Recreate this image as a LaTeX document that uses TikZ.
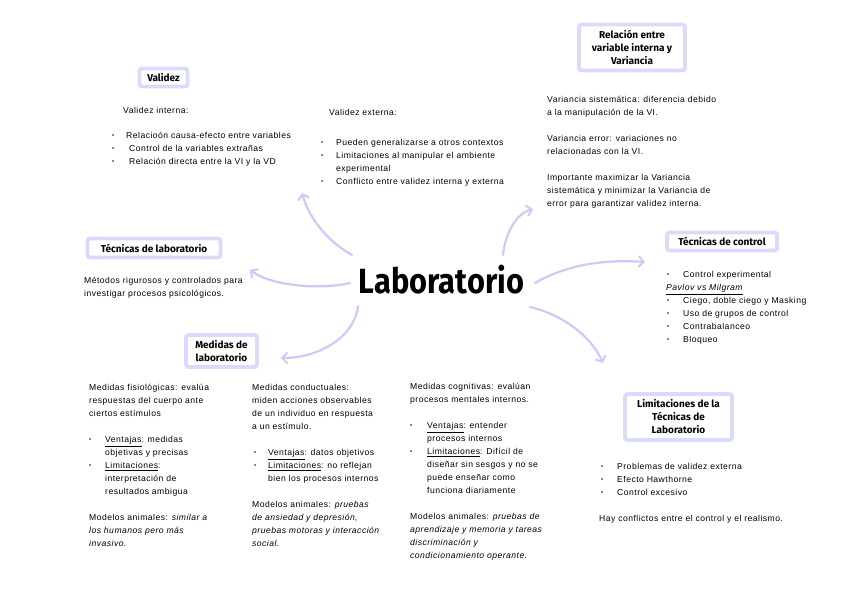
\documentclass[tikz,border=0pt]{standalone}
\usepackage{fontspec}
\setmainfont{Liberation Sans}[LetterSpace=5.5]
\newfontfamily\tfont{Fira Sans}
\usetikzlibrary{arrows.meta}
\definecolor{boxc}{RGB}{217,219,250}
\definecolor{arrc}{RGB}{200,205,246}
\newcommand\bl[1]{\makebox[#1][l]{\raisebox{0.2ex}{\scalebox{0.7}{•}}}}
\begin{document}
\begin{tikzpicture}[x=1pt,y=-1pt,
 ttl/.style={draw=boxc,line width=3.8pt,fill=white,rounded corners=2.5pt,
   font=\tfont\bfseries\fontsize{10}{13}\selectfont,align=center,inner sep=0pt},
 txt/.style={anchor=north west,inner sep=0pt,align=left,font=\fontsize{8.6}{13}\selectfont},
 arr/.style={draw=arrc,line width=2.2pt,line cap=round,
   -{Straight Barb[length=5pt,width=11pt,line width=2pt]}}]
\useasboundingbox (0,0) rectangle (848,599);

% title boxes
\node[ttl,minimum width=48pt,minimum height=18pt] (val) at (163.5,77.5) {Validez};
\node[ttl,minimum width=106pt,minimum height=46pt] (rel) at (632,47.5)
  {Relación entre\\variable interna y\\Variancia};
\node[ttl,minimum width=133pt,minimum height=19pt] (tlab) at (154,248) {Técnicas de laboratorio};
\node[ttl,minimum width=110pt,minimum height=18pt] (tcon) at (722,241.5) {Técnicas de control};
\node[ttl,minimum width=71pt,minimum height=32pt] (med) at (221.5,351) {Medidas de\\laboratorio};
\node[ttl,minimum width=107pt,minimum height=46pt] (lim) at (678.5,417) {Limitaciones de la\\Técnicas de\\Laboratorio};

% centre
\node[inner sep=0pt] (lab) at (441.5,280)
  {\scalebox{0.88}[1]{\tfont\bfseries\fontsize{35}{40}\selectfont Laboratorio}};

% texts
\node[txt] (vih) at (123,104.5) {\strut Validez interna:};
\node[txt] (vil) at (112,129.5) {\strut\bl{14pt}Relacioón causa-efecto entre variables\\
 \bl{14pt}\hspace{3pt}Control de la variables extrañas\\
 \bl{14pt}\hspace{3pt}Relación directa entre la VI y la VD};

\node[txt] (veh) at (329,106.5) {\strut Validez externa:};
\node[txt] (vel) at (321,136.5) {\strut\bl{15pt}Pueden generalizarse a otros contextos\\
 \bl{15pt}Limitaciones al manipular el ambiente\\
 \hspace{15pt}experimental\\
 \bl{15pt}Conflicto entre validez interna y externa};

\node[txt] (vart) at (547,93.5) {\strut Variancia sistemática: diferencia debido\\
 a la manipulación de la VI.\\[13pt]
 Variancia error: variaciones no\\
 relacionadas con la VI.\\[13pt]
 Importante maximizar la Variancia\\
 sistemática y minimizar la Variancia de\\
 error para garantizar validez interna.};

\node[txt] (met) at (84,274.5) {\strut Métodos rigurosos y controlados para\\
 investigar procesos psicológicos.};

\node[txt] (tcl) at (666,268.5) {\strut\hspace{1pt}\bl{16pt}Control experimental\\
 \underline{\itshape Pavlov vs Milgram}\\
 \hspace{1pt}\bl{16pt}Ciego, doble ciego y Masking\\
 \hspace{1pt}\bl{16pt}Uso de grupos de control\\
 \hspace{1pt}\bl{16pt}Contrabalanceo\\
 \hspace{1pt}\bl{16pt}Bloqueo};

\node[txt] (c1) at (89,381.5) {\strut Medidas fisiológicas: evalúa\\
 respuestas del cuerpo ante\\
 ciertos estímulos\\[13pt]
 \bl{16pt}\underline{Ventajas}: medidas\\
 \hspace{16pt}objetivas y precisas\\
 \bl{16pt}\underline{Limitaciones}:\\
 \hspace{16pt}interpretación de\\
 \hspace{16pt}resultados ambigua\\[13pt]
 Modelos animales: \textit{similar a}\\
 \textit{los humanos pero más}\\
 \textit{invasivo}.};

\node[txt] (c2) at (252,381.5) {\strut Medidas conductuales:\\
 miden acciones observables\\
 de un individuo en respuesta\\
 a un estímulo.\\[13pt]
 \hspace{2pt}\bl{14pt}\underline{Ventajas}: datos objetivos\\
 \hspace{2pt}\bl{14pt}\underline{Limitaciones}: no reflejan\\
 \hspace{16pt}bien los procesos internos\\[13pt]
 Modelos animales: \textit{pruebas}\\
 \textit{de ansiedad y depresión},\\
 \textit{pruebas motoras y interacción}\\
 \textit{social}.};

\node[txt] (c3) at (410,380.5) {\strut Medidas cognitivas: evalúan\\
 procesos mentales internos.\\[13pt]
 \bl{17pt}\underline{Ventajas}: entender\\
 \hspace{17pt}procesos internos\\
 \bl{17pt}\underline{Limitaciones}: Difícil de\\
 \hspace{17pt}diseñar sin sesgos y no se\\
 \hspace{17pt}puede enseñar como\\
 \hspace{17pt}funciona diariamente\\[13pt]
 Modelos animales: \textit{pruebas de}\\
 \textit{aprendizaje y memoria y tareas}\\
 \textit{discriminación y}\\
 \textit{condicionamiento operante}.};

\node[txt] (liml) at (599,460.5) {\strut\hspace{2pt}\bl{16pt}Problemas de validez externa\\
 \hspace{2pt}\bl{16pt}Efecto Hawthorne\\
 \hspace{2pt}\bl{16pt}Control excesivo\\[13pt]
 Hay conflictos entre el control y el realismo.};

% connectors
\coordinate (s1) at (352,255); \coordinate (e1) at (302,193);
\coordinate (s2) at (503,255); \coordinate (e2) at (533,209);
\coordinate (s3) at (350,283); \coordinate (e3) at (250,270);
\coordinate (s4) at (535,283); \coordinate (e4) at (645,262);
\coordinate (s5) at (358,306); \coordinate (e5) at (281,358);
\coordinate (s6) at (530,307); \coordinate (e6) at (603,363);
\draw[arr] (s1) .. controls (325,240) and (308,215) .. (e1);
\draw[arr] (s2) .. controls (505,235) and (515,214) .. (e2);
\draw[arr] (s3) .. controls (320,290) and (272,286) .. (e3);
\draw[arr] (s4) .. controls (565,266) and (600,259) .. (e4);
\draw[arr] (s5) .. controls (355,336) and (320,358) .. (e5);
\draw[arr] (s6) .. controls (560,314) and (590,334) .. (e6);
\end{tikzpicture}
\end{document}
